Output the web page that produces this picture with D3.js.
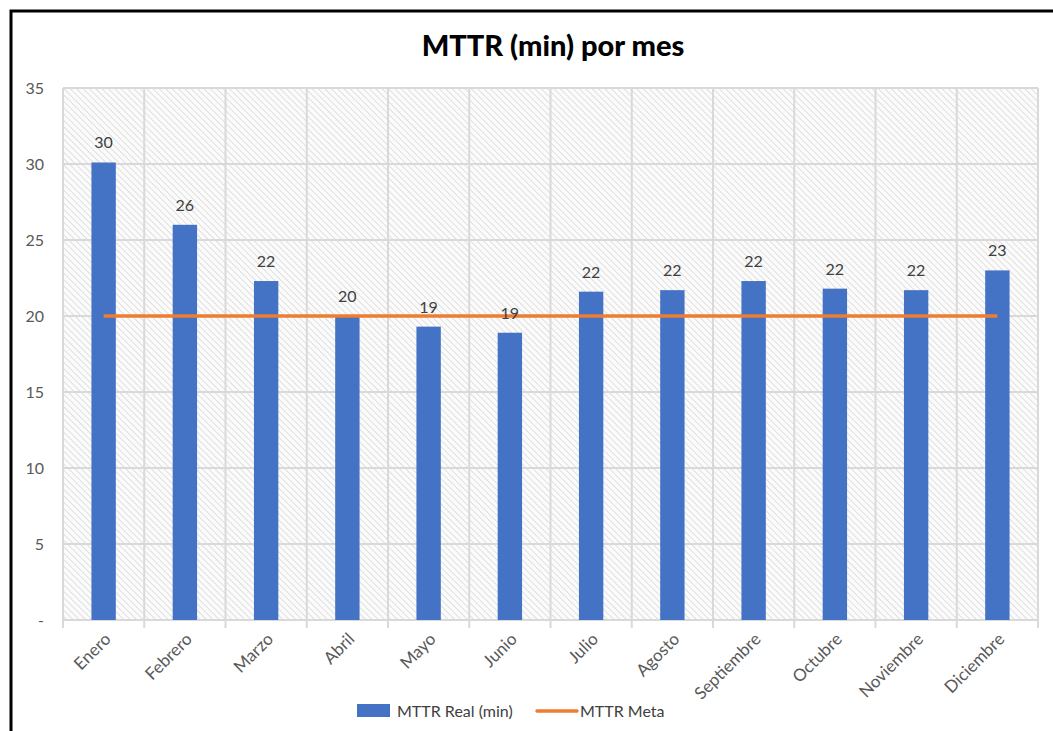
<!DOCTYPE html>
<html><head><meta charset="utf-8">
<script src="https://cdn.jsdelivr.net/npm/d3@7"></script>
<style>body{margin:0;background:#fff;} svg{display:block;}</style>
</head><body>
<svg id="c" width="1053" height="731"></svg>
<script>
const months = ["Enero","Febrero","Marzo","Abril","Mayo","Junio","Julio","Agosto","Septiembre","Octubre","Noviembre","Diciembre"];
const realValues = [30.1, 26.0, 22.3, 20.0, 19.3, 18.9, 21.6, 21.7, 22.3, 21.8, 21.7, 23.0];
const realLabels = ["30","26","22","20","19","19","22","22","22","22","22","23"];
const metaValues = [20,20,20,20,20,20,20,20,20,20,20,20];
const yTicks = [0,5,10,15,20,25,30,35];
const yTickLabels = ["-","5","10","15","20","25","30","35"];
const titleText = "MTTR (min) por mes";
const seriesNames = ["MTTR Real (min)","MTTR Meta"];

const svg = d3.select("#c");
const font = "Lato, 'Open Sans', sans-serif";
// outer border
svg.append("rect").attr("x",11).attr("y",11).attr("width",1060).attr("height",740)
  .attr("fill","#fff").attr("stroke","#000").attr("stroke-width",3);

const defs = svg.append("defs");
const pat = defs.append("pattern").attr("id","hatch").attr("patternUnits","userSpaceOnUse")
  .attr("width",4.5).attr("height",4.5).attr("patternTransform","rotate(-45)");
pat.append("rect").attr("width",4.5).attr("height",4.5).attr("fill","#fbfbfb");
pat.append("line").attr("x1",0).attr("y1",0).attr("x2",0).attr("y2",4.5).attr("stroke","#cfcfcf").attr("stroke-width",1.2);

const m = {l:63, r:1038, t:88, b:620};
const x = d3.scaleBand().domain(months).range([m.l,m.r]).paddingInner(0.7).paddingOuter(0.35);
const xb = d3.scaleBand().domain(months).range([m.l,m.r]);
const y = d3.scaleLinear().domain([0,35]).range([m.b,m.t]);

svg.append("rect").attr("x",m.l).attr("y",m.t).attr("width",m.r-m.l).attr("height",m.b-m.t).attr("fill","url(#hatch)");

// horizontal grid
svg.append("g").selectAll("line").data(yTicks).join("line")
  .attr("x1",m.l).attr("x2",m.r).attr("y1",d=>y(d)).attr("y2",d=>y(d))
  .attr("stroke","#d9d9d9").attr("stroke-width",2);
// vertical grid
const vb = months.map(d=>xb(d)).concat([m.r]);
svg.append("g").selectAll("line").data(vb).join("line")
  .attr("x1",d=>d).attr("x2",d=>d).attr("y1",m.t).attr("y2",m.b+8)
  .attr("stroke","#d9d9d9").attr("stroke-width",2);

// y labels
svg.append("g").selectAll("text").data(yTicks).join("text")
  .attr("x",44).attr("y",d=>y(d)).attr("dy","0.35em").attr("text-anchor","end")
  .attr("font-family",font).attr("font-size",16).attr("fill","#595959")
  .text((d,i)=>yTickLabels[i]);

// bars
svg.append("g").selectAll("rect").data(realValues).join("rect")
  .attr("x",(d,i)=>x(months[i])).attr("width",x.bandwidth())
  .attr("y",d=>y(d)).attr("height",d=>y(0)-y(d)).attr("fill","#4472C4");

// meta line
const line = d3.line().x((d,i)=>xb(months[i])+xb.bandwidth()/2).y(d=>y(d));
svg.append("path").datum(metaValues).attr("d",line).attr("fill","none")
  .attr("stroke","#ED7D31").attr("stroke-width",3.5);

// data labels
svg.append("g").selectAll("text").data(realValues).join("text")
  .attr("x",(d,i)=>xb(months[i])+xb.bandwidth()/2).attr("y",d=>y(d)-14)
  .attr("text-anchor","middle").attr("font-family",font).attr("font-size",16).attr("fill","#404040")
  .text((d,i)=>realLabels[i]);

// x labels
svg.append("g").selectAll("text").data(months).join("text")
  .attr("transform",d=>`translate(${xb(d)+xb.bandwidth()/2+4},${m.b+16}) rotate(-45)`)
  .attr("text-anchor","end").attr("dy","0.35em")
  .attr("font-family",font).attr("font-size",17).attr("fill","#595959").text(d=>d);

// title
svg.append("text").attr("x",553).attr("y",56).attr("text-anchor","middle")
  .attr("font-family",font).attr("font-weight","900").attr("font-size",29).attr("fill","#000")
  .text(titleText);

// legend
const lg = svg.append("g");
lg.append("rect").attr("x",357).attr("y",704).attr("width",33).attr("height",13).attr("fill","#4472C4");
lg.append("text").attr("x",397).attr("y",711).attr("dy","0.35em").attr("font-family",font).attr("font-size",16).attr("fill","#404040").text(seriesNames[0]);
lg.append("line").attr("x1",537).attr("x2",577).attr("y1",711).attr("y2",711).attr("stroke","#ED7D31").attr("stroke-width",3.5).attr("stroke-linecap","round");
lg.append("text").attr("x",580).attr("y",711).attr("dy","0.35em").attr("font-family",font).attr("font-size",16).attr("fill","#404040").text(seriesNames[1]);
</script>
</body></html>
